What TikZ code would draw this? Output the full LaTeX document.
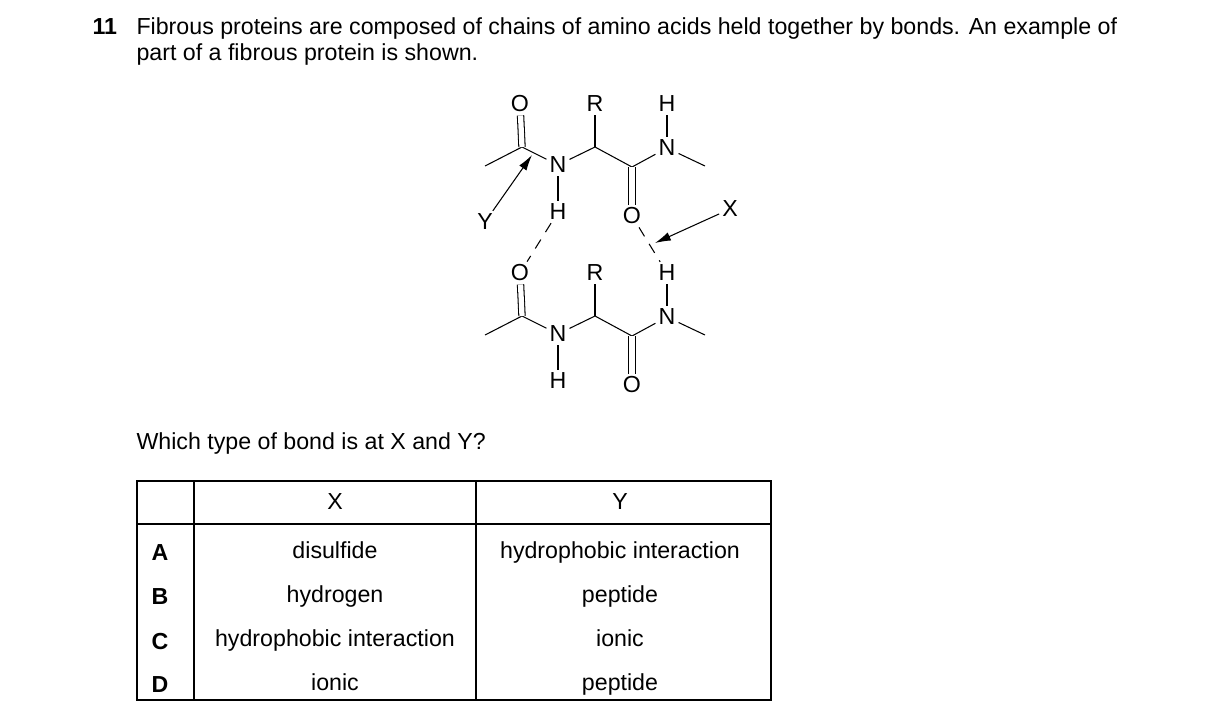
\documentclass[tikz,border=0pt]{standalone}
\usepackage{fontspec}
\setmainfont{Liberation Sans}
\usetikzlibrary{arrows.meta}
\begin{document}
\begin{tikzpicture}[x={(0.02cm,0)},y={(0,-0.02cm)},line width=0.6pt]
	\tikzstyle{atom}=[inner sep=1.5pt,font=\fontsize{13.2}{15}\selectfont]
	\tikzstyle{txt}=[inner sep=0pt,anchor=base west,font=\fontsize{13.2}{15}\selectfont]
	\tikzstyle{cell}=[inner sep=0pt,font=\fontsize{13.2}{15}\selectfont]
	\tikzstyle{dbl}=[double,double distance=3pt,line width=0.6pt]
	\useasboundingbox (0,0) rectangle (1216,725);
	
	\node[txt,font=\fontsize{13.2}{15}\selectfont\bfseries] at (92,34) (num) {11};
	\node[txt] at (136,34) (q1) {Fibrous proteins are composed of chains of amino acids held together by bonds. An example of};
	\node[txt] at (136,60) (q2) {part of a fibrous protein is shown.};
	\node[txt] at (136,449) (q3) {Which type of bond is at X and Y?};
	
	% two chains
	\foreach \i/\dy in {t/0,b/169}{
		\coordinate (\i e1) at (485,166+\dy);
		\coordinate (\i c1) at (522,147+\dy);
		\node[atom] at (520,104+\dy) (\i o1) {O};
		\node[atom] at (558,165+\dy) (\i n1) {N};
		\node[atom] at (558,212+\dy) (\i h1) {H};
		\coordinate (\i ca) at (595,147+\dy);
		\node[atom] at (595,104+\dy) (\i r) {R};
		\coordinate (\i c2) at (632,167+\dy);
		\node[atom] at (632,216+\dy) (\i o2) {O};
		\node[atom] at (667,148+\dy) (\i n2) {N};
		\node[atom] at (667,104+\dy) (\i h2) {H};
		\coordinate (\i e2) at (705,166+\dy);
		\draw (\i e1) -- (\i c1) -- (\i n1) -- (\i ca) -- (\i c2) -- (\i n2) -- (\i e2);
		\draw (\i ca) -- (\i r);
		\draw (\i n1) -- (\i h1);
		\draw (\i n2) -- (\i h2);
		\draw[dbl] (\i c1) -- (\i o1);
		\draw[dbl] (\i c2) -- (\i o2);
	}
	
	\draw[dashed,dash pattern=on 6pt off 5pt] (th1) -- (bo1);
	\draw[dashed,dash pattern=on 6pt off 5pt] (to2) -- (bh2);
	
	\node[atom] at (730,209) (x) {X};
	\node[atom] at (485,222) (y) {Y};
	\coordinate (xt) at (655,243);
	\coordinate (yt) at (532,155);
	\draw[-{Latex[length=9pt,width=5pt]}] (x) -- (xt);
	\draw[-{Latex[length=9pt,width=5pt]}] (y) -- (yt);
	
	% table
	\draw (137,481) rectangle (771,700);
	\draw (137,524) -- (771,524);
	\draw (194,481) -- (194,700);
	\draw (476,481) -- (476,700);
	\node[cell] at (335,502) (hx) {X};
	\node[cell] at (620,502) (hy) {Y};
	\foreach \l/\a/\b [count=\k] in {A/disulfide/hydrophobic interaction,B/hydrogen/peptide,C/hydrophobic interaction/ionic,D/ionic/peptide}{
		\pgfmathsetmacro{\yy}{553+44*(\k-1)}
		\node[cell,font=\fontsize{13.2}{15}\selectfont\bfseries] at (160,\yy) (l\k) {\l};
		\node[cell] at (335,\yy) (cx\k) {\strut\a};
		\node[cell] at (620,\yy) (cy\k) {\strut\b};
	}
\end{tikzpicture}
\end{document}
